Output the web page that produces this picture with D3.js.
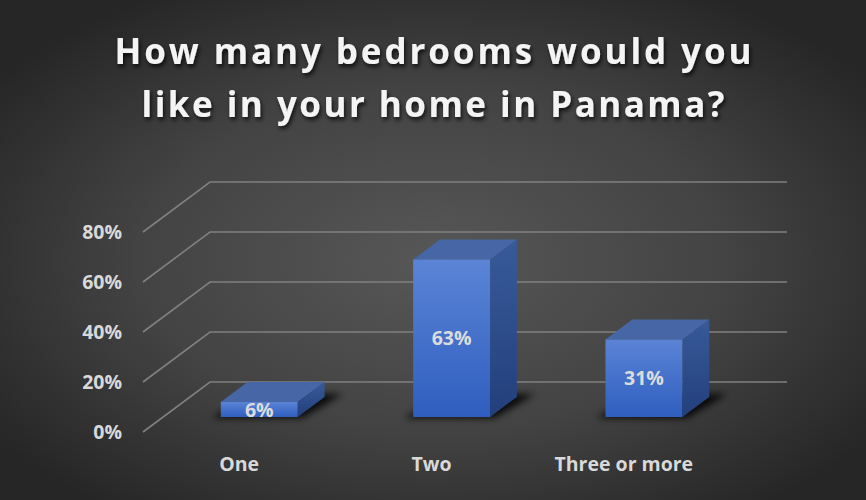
<!DOCTYPE html>
<html>
<head>
<meta charset="utf-8">
<script src="https://cdn.jsdelivr.net/npm/d3@7/dist/d3.min.js"></script>
<style>
  html, body { margin: 0; padding: 0; background: #2b2b2b; }
  svg { display: block; }
</style>
</head>
<body>
<svg id="chart" width="866" height="500"></svg>
<script>
// Survey answers: preferred number of bedrooms
const categories = ["One", "Two", "Three or more"];
const shares = [0.06, 0.63, 0.31];
const valueLabels = ["6%", "63%", "31%"];
const tickValues = [0, 0.2, 0.4, 0.6, 0.8];
const tickLabels = ["0%", "20%", "40%", "60%", "80%"];
const titleLines = ["How many bedrooms would you", "like in your home in Panama?"];

const W = 866, H = 500;
const svg = d3.select("#chart");
const defs = svg.append("defs");

// Background: soft radial spotlight
const bg = defs.append("radialGradient").attr("id", "bg")
  .attr("cx", "50%").attr("cy", "52%").attr("r", "62%");
bg.append("stop").attr("offset", "0%").attr("stop-color", "#575757");
bg.append("stop").attr("offset", "55%").attr("stop-color", "#434343");
bg.append("stop").attr("offset", "100%").attr("stop-color", "#262626");
svg.append("rect").attr("width", W).attr("height", H).attr("fill", "url(#bg)");

// Bar face gradients
const front = defs.append("linearGradient").attr("id", "front")
  .attr("x1", 0).attr("y1", 0).attr("x2", 0).attr("y2", 1);
front.append("stop").attr("offset", "0%").attr("stop-color", "#5b84d6");
front.append("stop").attr("offset", "100%").attr("stop-color", "#2f5ebf");
const side = defs.append("linearGradient").attr("id", "side")
  .attr("x1", 0).attr("y1", 0).attr("x2", 0).attr("y2", 1);
side.append("stop").attr("offset", "0%").attr("stop-color", "#385a99");
side.append("stop").attr("offset", "100%").attr("stop-color", "#233f7c");

const titleShadow = defs.append("filter").attr("id", "tshadow")
  .attr("x", "-10%").attr("y", "-30%").attr("width", "120%").attr("height", "170%");
titleShadow.append("feDropShadow").attr("dx", 1.5).attr("dy", 3).attr("stdDeviation", 2)
  .attr("flood-color", "#000").attr("flood-opacity", 0.75);

const barShadow = defs.append("filter").attr("id", "bshadow")
  .attr("x", "-30%").attr("y", "-100%").attr("width", "160%").attr("height", "300%");
barShadow.append("feGaussianBlur").attr("stdDeviation", 3.5);

// Oblique 3D frame: front plane plus a receding depth offset
const plot = { left: 143, width: 577, depthX: 67, depthY: -50 };
const x = d3.scaleBand().domain(categories).range([0, plot.width])
  .paddingInner(0.6).paddingOuter(0.3);
const y = d3.scaleLinear().domain([0, 0.8]).range([432, 232]);

// project (horizontal offset, value, depth fraction 0..1) to screen
function P(px, v, d) {
  return [plot.left + px + plot.depthX * d, y(v) + plot.depthY * d];
}
const line = d3.line();

// Gridlines: side wall diagonal + back wall horizontal
const grid = svg.append("g").attr("fill", "none")
  .attr("stroke", "#808080").attr("stroke-width", 1.6);
tickValues.forEach(t => {
  grid.append("path").attr("d", line([P(0, t, 0), P(0, t, 1), P(plot.width, t, 1)]));
});

// Y axis labels
svg.append("g").selectAll("text").data(tickValues).join("text")
  .attr("x", 122).attr("y", t => y(t))
  .attr("dy", "0.36em").attr("text-anchor", "end")
  .attr("font-family", "'Open Sans', sans-serif").attr("font-weight", 700)
  .attr("font-size", 19.5).attr("fill", "#d9d9d9")
  .text((t, i) => tickLabels[i]);

// Bars from depth 0.3 to 0.7
const d0 = 0.3, d1 = 0.7;
const bars = svg.append("g");
categories.forEach((c, i) => {
  const x0 = x(c), x1 = x(c) + x.bandwidth(), v = shares[i];
  const g = bars.append("g");
  // floor shadow
  g.append("path")
    .attr("d", line([P(x0 - 8, 0, d0 - 0.02), P(x1 + 6, 0, d0 - 0.02),
                     P(x1 + 14, 0, d1 + 0.06), P(x0 + 4, 0, d1 + 0.06)]) + "Z")
    .attr("fill", "#000").attr("opacity", 0.85).attr("filter", "url(#bshadow)");
  // right side face
  g.append("path")
    .attr("d", line([P(x1, 0, d0), P(x1, 0, d1), P(x1, v, d1), P(x1, v, d0)]) + "Z")
    .attr("fill", "url(#side)");
  // top face
  g.append("path")
    .attr("d", line([P(x0, v, d0), P(x1, v, d0), P(x1, v, d1), P(x0, v, d1)]) + "Z")
    .attr("fill", "#4766a6");
  // front face
  const f0 = P(x0, v, d0), f1 = P(x1, 0, d0);
  g.append("rect")
    .attr("x", f0[0]).attr("y", f0[1])
    .attr("width", f1[0] - f0[0]).attr("height", f1[1] - f0[1])
    .attr("fill", "url(#front)");
  // data label
  g.append("text")
    .attr("x", (f0[0] + f1[0]) / 2).attr("y", (f0[1] + f1[1]) / 2)
    .attr("dy", "0.36em").attr("text-anchor", "middle")
    .attr("font-family", "'Open Sans', sans-serif").attr("font-weight", 700)
    .attr("font-size", 19.5).attr("fill", "#dcdcdc")
    .text(valueLabels[i]);
});

// Category labels along the front edge of the floor
svg.append("g").selectAll("text").data(categories).join("text")
  .attr("x", c => plot.left + x(c) + x.bandwidth() / 2)
  .attr("y", 471).attr("text-anchor", "middle")
  .attr("font-family", "'Open Sans', sans-serif").attr("font-weight", 700)
  .attr("font-size", 19.5).attr("fill", "#d9d9d9")
  .text(c => c);

// Title
const titleWidths = [637, 583];
const title = svg.append("g").attr("filter", "url(#tshadow)");
titleLines.forEach((t, i) => {
  title.append("text")
    .attr("x", 433).attr("y", 64 + i * 53)
    .attr("text-anchor", "middle")
    .attr("font-family", "'Open Sans', sans-serif").attr("font-weight", 700)
    .attr("font-size", 35).attr("fill", "#f4f4f4")
    .attr("textLength", titleWidths[i]).attr("lengthAdjust", "spacing")
    .text(t);
});
</script>
</body>
</html>
